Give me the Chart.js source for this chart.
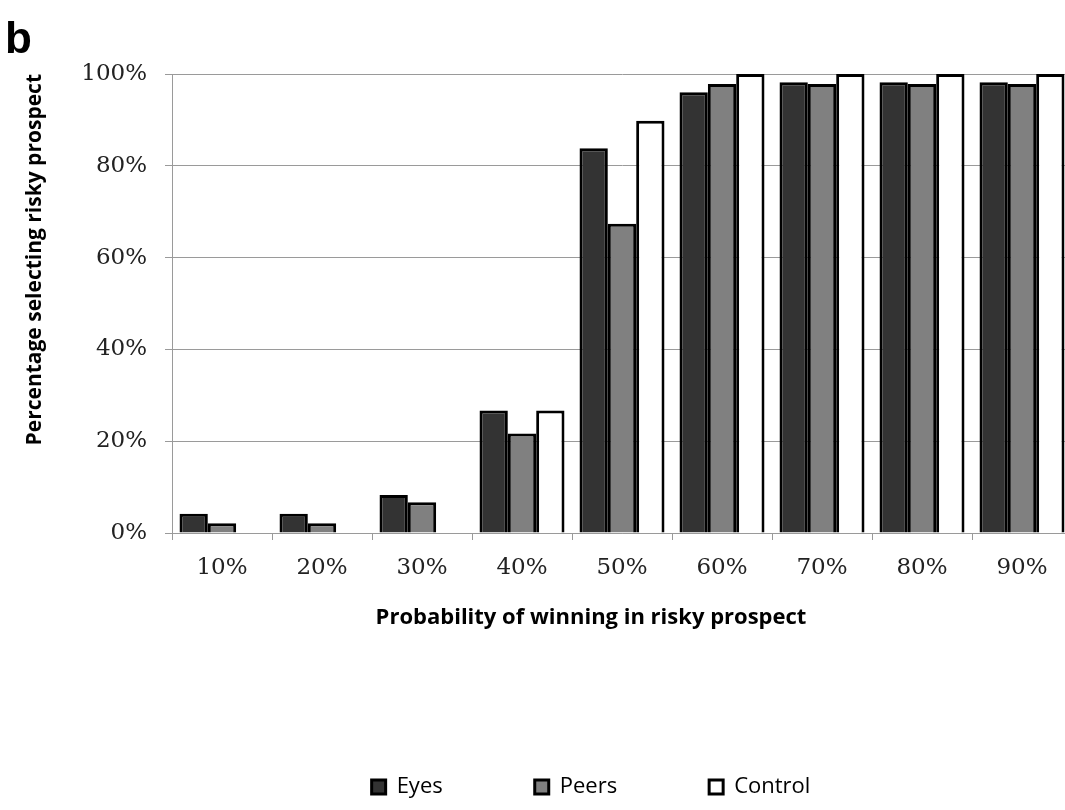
<!DOCTYPE html>
<html>
<head>
<meta charset="utf-8">
<script src="https://cdn.jsdelivr.net/npm/chart.js@4"></script>
<style>
  html, body { margin: 0; padding: 0; overflow: hidden; background: #fff; }
  #wrap { position: relative; width: 1182px; height: 810px; }
  #panel { position: absolute; left: 5px; top: 16px; font: bold 44px "Liberation Sans", Arial, sans-serif; line-height: 44px; color: #000; }
</style>
</head>
<body>
<div id="wrap">
  <canvas id="c"></canvas>
  <div id="panel">b</div>
</div>
<script>
const categories = ['10%', '20%', '30%', '40%', '50%', '60%', '70%', '80%', '90%'];
const eyes    = [4.2, 4.2, 8.3, 26.7, 83.8, 96.0, 98.2, 98.2, 98.2];
const peers   = [2.1, 2.1, 6.7, 21.7, 67.4, 97.8, 97.8, 97.8, 97.8];
const control = [0, 0, 0, 26.7, 89.8, 100, 100, 100, 100];
const yTicks  = [0, 20, 40, 60, 80, 100];
const seriesNames = ['Eyes', 'Peers', 'Control'];
const xTitle = 'Probability of winning in risky prospect';
const yTitle = 'Percentage selecting risky prospect';

const gridGray = '#9a9a9a';
const serifTick = { family: 'DejaVu Serif', size: 23 };

new Chart(document.getElementById('c'), {
  type: 'bar',
  data: {
    labels: categories,
    datasets: [
      { label: seriesNames[0], data: eyes, backgroundColor: '#333333', borderColor: '#000', borderWidth: 3 },
      { label: seriesNames[1], data: peers, backgroundColor: '#808080', borderColor: '#000', borderWidth: 3 },
      { label: seriesNames[2], data: control, backgroundColor: '#ffffff', borderColor: '#000', borderWidth: 3 }
    ]
  },
  options: {
    responsive: true,
    maintainAspectRatio: false,
    devicePixelRatio: 1,
    animation: false,
    layout: { padding: { top: 74, left: 0, right: 0, bottom: 2 } },
    datasets: { bar: { categoryPercentage: 0.85, barPercentage: 1.0, borderSkipped: 'start' } },
    scales: {
      x: {
        grid: { display: true, drawOnChartArea: false, drawTicks: true, tickLength: 7, offset: true, color: gridGray },
        border: { display: true, color: gridGray },
        ticks: { font: serifTick, color: '#222', padding: 14, maxRotation: 0 }
      },
      y: {
        min: 0, max: 100,
        afterBuildTicks: s => { s.ticks = yTicks.map(v => ({ value: v })); },
        afterFit: s => { s.width = 172; },
        grid: { color: gridGray, tickLength: 7, drawTicks: true },
        border: { display: true, color: gridGray },
        ticks: { font: serifTick, color: '#222', padding: 18, callback: v => v + '%' },
        title: { display: true, text: yTitle, align: 'end', color: '#000',
                 font: { family: 'Open Sans', size: 21, weight: 'bold' }, padding: { top: 22, bottom: 0 } }
      },
      y2: {
        type: 'linear', position: 'right', display: true,
        grid: { display: false }, border: { display: false }, ticks: { display: false },
        afterFit: s => { s.width = 110; }
      }
    },
    plugins: {
      tooltip: { enabled: false },
      title: {
        display: true, text: xTitle, position: 'bottom', weight: 500, color: '#000',
        font: { family: 'Open Sans', size: 22, weight: 'bold' }, padding: { top: 9, bottom: 53 }
      },
      legend: {
        display: true, position: 'bottom', align: 'center',
        labels: { boxWidth: 14, boxHeight: 14, padding: 92, color: '#000',
                  font: { family: 'Open Sans', size: 22 } }
      }
    }
  }
});
</script>
</body>
</html>
